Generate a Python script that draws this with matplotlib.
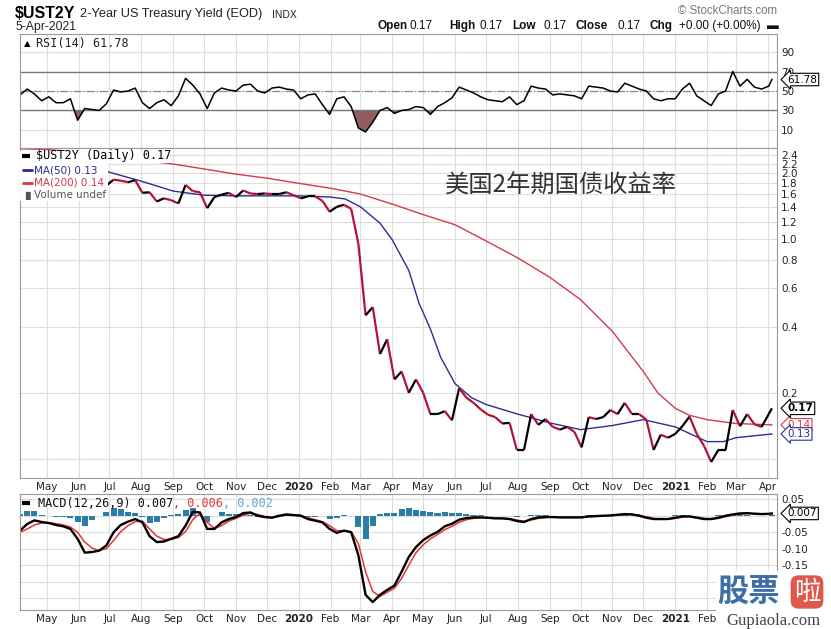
import numpy as np
import pandas as pd
import matplotlib
matplotlib.use("Agg")
import matplotlib.pyplot as plt
import matplotlib.dates as mdates
from matplotlib.collections import LineCollection
from matplotlib.patches import Rectangle
from matplotlib.ticker import NullLocator
from matplotlib.transforms import blended_transform_factory as blend

W, H = 831, 629

# weekly closes (Fridays) plus the last bar
weeks = list(pd.date_range("2019-04-05", "2021-04-02", freq="7D")) + [pd.Timestamp("2021-04-05")]

yield_2y = [2.34, 2.39, 2.38, 2.28, 2.34, 2.27, 2.20, 2.16, 1.92, 1.85,
            1.84, 1.77, 1.75, 1.86, 1.84, 1.81, 1.85, 1.62, 1.63, 1.48,
            1.53, 1.50, 1.45, 1.76, 1.65, 1.63, 1.38, 1.55, 1.59, 1.62,
            1.55, 1.66, 1.61, 1.60, 1.61, 1.60, 1.60, 1.63, 1.58, 1.53,
            1.56, 1.56, 1.49, 1.33, 1.40, 1.43, 1.37, 0.95, 0.45, 0.49,
            0.30, 0.35, 0.23, 0.25, 0.20, 0.23, 0.20, 0.16, 0.16, 0.165,
            0.15, 0.21, 0.19, 0.18, 0.168, 0.159, 0.155, 0.145, 0.146, 0.11,
            0.11, 0.16, 0.143, 0.152, 0.14, 0.136, 0.14, 0.133, 0.113, 0.155,
            0.152, 0.155, 0.167, 0.16, 0.18, 0.16, 0.16, 0.151, 0.11, 0.129,
            0.125, 0.13, 0.141, 0.156, 0.13, 0.115, 0.097, 0.11, 0.11, 0.167,
            0.141, 0.16, 0.144, 0.14, 0.16, 0.17]

rsi_14 = [46, 52, 47, 40, 44, 38, 38, 42, 20, 32,
          31, 30, 37, 51, 49, 50, 53, 38, 32, 38,
          41, 35, 45, 63, 56, 47, 32, 48, 53, 51,
          50, 56, 57, 50, 48, 53, 54, 52, 51, 42,
          46, 47, 36, 26, 42, 44, 34, 12, 8, 18,
          30, 33, 27, 30, 31, 34, 33, 26, 34, 38,
          43, 54, 51, 48, 44, 41, 40, 39, 44, 36,
          40, 55, 53, 52, 46, 47, 46, 45, 42, 55,
          54, 53, 50, 49, 58, 55, 52, 50, 42, 40,
          42, 42, 52, 58, 45, 40, 35, 47, 50, 70,
          55, 62, 54, 52, 55, 61.78]

macd_line = [-0.045, -0.025, -0.014, -0.019, -0.022, -0.028, -0.032, -0.040, -0.070, -0.112,
             -0.110, -0.106, -0.090, -0.050, -0.028, -0.018, -0.010, -0.020, -0.062, -0.080,
             -0.078, -0.070, -0.062, -0.030, 0.012, 0.010, -0.040, -0.040, -0.020, -0.010,
             -0.004, 0.008, 0.010, 0.000, -0.004, -0.006, 0.000, 0.004, 0.002, 0.000,
             -0.010, -0.015, -0.020, -0.040, -0.052, -0.045, -0.050, -0.120, -0.240, -0.262,
             -0.240, -0.225, -0.212, -0.170, -0.125, -0.095, -0.074, -0.060, -0.049, -0.032,
             -0.024, -0.012, -0.007, -0.005, -0.005, -0.006, -0.008, -0.008, -0.010, -0.016,
             -0.019, -0.010, -0.005, -0.004, -0.004, -0.005, -0.005, -0.005, -0.005, -0.002,
             -0.001, 0.000, 0.001, 0.003, 0.005, 0.004, 0.000, -0.006, -0.010, -0.010,
             -0.010, -0.006, -0.002, -0.002, -0.006, -0.010, -0.010, -0.006, 0.000, 0.004,
             0.007, 0.008, 0.006, 0.005, 0.006, 0.007]

macd_signal = [-0.050, -0.040, -0.028, -0.022, -0.021, -0.024, -0.028, -0.034, -0.050, -0.080,
               -0.098, -0.105, -0.100, -0.075, -0.048, -0.030, -0.018, -0.016, -0.040, -0.062,
               -0.072, -0.072, -0.066, -0.048, -0.012, 0.008, -0.020, -0.038, -0.030, -0.016,
               -0.008, 0.002, 0.008, 0.004, -0.002, -0.005, -0.002, 0.002, 0.003, 0.001,
               -0.006, -0.012, -0.018, -0.030, -0.045, -0.046, -0.048, -0.085, -0.170, -0.230,
               -0.245, -0.232, -0.220, -0.190, -0.150, -0.112, -0.088, -0.070, -0.057, -0.042,
               -0.032, -0.020, -0.012, -0.008, -0.006, -0.006, -0.007, -0.008, -0.009, -0.013,
               -0.017, -0.013, -0.008, -0.005, -0.004, -0.005, -0.005, -0.005, -0.005, -0.003,
               -0.002, -0.001, 0.000, 0.002, 0.004, 0.004, 0.002, -0.003, -0.008, -0.010,
               -0.010, -0.008, -0.004, -0.002, -0.004, -0.008, -0.010, -0.008, -0.003, 0.002,
               0.005, 0.007, 0.007, 0.006, 0.006, 0.006]

ma50_dates = pd.to_datetime([
    "2019-04-05", "2019-05-01", "2019-06-01", "2019-06-22", "2019-07-01", "2019-08-01",
    "2019-09-01", "2019-10-01", "2019-11-01", "2019-12-01", "2020-01-01", "2020-02-01",
    "2020-02-15", "2020-03-01", "2020-03-20", "2020-04-01", "2020-04-17", "2020-04-27",
    "2020-05-08", "2020-05-18", "2020-06-01", "2020-06-17", "2020-07-01", "2020-08-01",
    "2020-09-01", "2020-10-01", "2020-11-01", "2020-12-01", "2021-01-01", "2021-02-01",
    "2021-02-17", "2021-03-01", "2021-04-05"])
ma50 = [2.38, 2.33, 2.22, 2.06, 2.01, 1.83,
        1.65, 1.58, 1.57, 1.57, 1.57, 1.55,
        1.52, 1.40, 1.18, 0.99, 0.72, 0.51,
        0.39, 0.29, 0.22, 0.19, 0.177, 0.16,
        0.146, 0.136, 0.142, 0.151, 0.14, 0.12,
        0.12, 0.125, 0.13]

ma200_dates = pd.to_datetime([
    "2019-04-05", "2019-05-01", "2019-06-01", "2019-07-01", "2019-08-01", "2019-09-01",
    "2019-10-01", "2019-11-01", "2019-12-01", "2020-01-01", "2020-02-01", "2020-03-01",
    "2020-04-01", "2020-05-01", "2020-06-01", "2020-07-01", "2020-08-01", "2020-09-01",
    "2020-10-01", "2020-11-01", "2020-12-01", "2020-12-15", "2021-01-01", "2021-01-15",
    "2021-02-01", "2021-03-01", "2021-04-05"])
ma200 = [2.57, 2.55, 2.48, 2.38, 2.28, 2.19,
         2.08, 1.97, 1.89, 1.79, 1.70, 1.60,
         1.44, 1.29, 1.16, 0.98, 0.82, 0.67,
         0.53, 0.38, 0.25, 0.20, 0.17, 0.158,
         0.151, 0.145, 0.143]

price_ticks = [2.4, 2.2, 2.0, 1.8, 1.6, 1.4, 1.2, 1.0, 0.8, 0.6, 0.4, 0.2]
rsi_ticks = [90, 70, 50, 30, 10]
macd_ticks = [0.05, -0.05, -0.10, -0.15]
month_ticks = pd.date_range("2019-05-01", "2021-04-01", freq="MS")

RED = "#b3123a"
MA50_C = "#2b2f8f"
MA200_C = "#d33a4c"
MONO = "DejaVu Sans Mono"
ARIAL = "Liberation Sans"


def fx(x):
    return x / W


def fy(y):
    return 1 - y / H


x_all = mdates.date2num(weeks)
x_lim = (mdates.date2num(pd.Timestamp("2019-04-05")), mdates.date2num(pd.Timestamp("2021-04-10")))

fig = plt.figure(figsize=(W / 100, H / 100), dpi=100)
ax_rsi = fig.add_axes([fx(20), fy(148), 757 / W, 114 / H])
ax_px = fig.add_axes([fx(20), fy(478), 757 / W, 330 / H])
ax_macd = fig.add_axes([fx(20), fy(610), 757 / W, 116 / H])


def style(ax, labels, upto=None):
    ax.set_xlim(*x_lim)
    ax.set_xticks(mdates.date2num(month_ticks))
    if labels:
        lab = []
        for d in month_ticks:
            if upto is not None and d > upto:
                lab.append("")          # hidden under the site stamp in the source
            elif d.month == 1:
                lab.append("%d" % d.year)
            else:
                lab.append(d.strftime("%b"))
        ax.set_xticklabels(lab)
        for t, d in zip(ax.get_xticklabels(), month_ticks):
            if d.month == 1:
                t.set_fontweight("bold")
                t.set_fontsize(8)
    else:
        ax.set_xticklabels([])
    ax.grid(True, color="#dedede", lw=0.8)
    ax.set_axisbelow(True)
    for s in ax.spines.values():
        s.set_color("#999999")
        s.set_linewidth(0.8)
    ax.yaxis.tick_right()
    ax.tick_params(length=0, labelsize=7.5, colors="#222222", pad=3)


def key_bar(ax, y, color, x1=0.0135, lw=2.6):
    # little coloured dash in front of each legend entry
    ax.plot([0.0027, x1], [y, y], transform=ax.transAxes, color=color, lw=lw,
            solid_capstyle="butt", clip_on=False, zorder=9)


def chain(ax, pieces, x, y, size, family):
    # write text pieces one after another on one line
    prev = ax.text(x, y, pieces[0][0], transform=ax.transAxes, fontsize=size, va="center",
                   color=pieces[0][1], family=family, zorder=8)
    for s, c in pieces[1:]:
        prev = ax.annotate(s, xy=(1, 0.5), xycoords=prev, va="center", ha="left",
                           fontsize=size, color=c, family=family, zorder=8)


# ---- RSI panel
style(ax_rsi, False)
ax_rsi.set_ylim(-8.5, 108.5)
ax_rsi.set_yticks(rsi_ticks)
rsi_arr = np.array(rsi_14, dtype=float)
ax_rsi.fill_between(x_all, rsi_arr, 30, where=rsi_arr < 30, interpolate=True,
                    color="#8e5f5c", lw=0)
ax_rsi.axhline(70, color="#777777", lw=1)
ax_rsi.axhline(30, color="#777777", lw=1)
ax_rsi.axhline(50, color="#888888", lw=0.9, ls="-.")
ax_rsi.plot(x_all, rsi_arr, color="black", lw=1.1)
tr = blend(ax_rsi.transAxes, ax_rsi.transData)
ax_rsi.text(1.014, rsi_14[-1], "61.78", transform=tr, fontsize=7.5, va="center", ha="left",
            bbox=dict(boxstyle="larrow,pad=0.12", fc="white", ec="black", lw=0.8), zorder=5,
            clip_on=False)
ax_rsi.text(0.005, 0.92, "\u25B2", transform=ax_rsi.transAxes, fontsize=6, va="center")
ax_rsi.text(0.0215, 0.92, "RSI(14) 61.78", transform=ax_rsi.transAxes, fontsize=8.5,
            va="center", color="#222222", family=MONO)

# ---- price panel
style(ax_px, True)
ax_px.set_yscale("log")
ax_px.set_ylim(0.082, 2.59)
ax_px.set_yticks(price_ticks + [0.1])
ax_px.set_yticklabels(["%.1f" % v for v in price_ticks] + [""])
ax_px.yaxis.set_minor_locator(NullLocator())
ax_px.plot(mdates.date2num(ma200_dates), ma200, color=MA200_C, lw=1)
ax_px.plot(mdates.date2num(ma50_dates), ma50, color=MA50_C, lw=1)
pts = np.column_stack([x_all, yield_2y])
segs = [pts[i:i + 2] for i in range(len(pts) - 1)]
cols = [RED if yield_2y[i + 1] < yield_2y[i] else "black" for i in range(len(pts) - 1)]
ax_px.add_collection(LineCollection(segs, colors=cols, linewidths=1.6, zorder=3))

tp = blend(ax_px.transAxes, ax_px.transData)
ax_px.text(1.014, ma200[-1], "0.14", transform=tp, fontsize=7.5, va="center", color=MA200_C,
           bbox=dict(boxstyle="larrow,pad=0.12", fc="white", ec=MA200_C, lw=0.8), clip_on=False, zorder=5)
ax_px.text(1.014, ma50[-1], "0.13", transform=tp, fontsize=7.5, va="center", color=MA50_C,
           bbox=dict(boxstyle="larrow,pad=0.12", fc="white", ec=MA50_C, lw=0.8), clip_on=False, zorder=6)
ax_px.text(1.014, yield_2y[-1], "0.17", transform=tp, fontsize=7.5, va="center", fontweight="bold",
           bbox=dict(boxstyle="larrow,pad=0.12", fc="white", ec="black", lw=0.8), clip_on=False, zorder=7)

# legend block has a white background that hides the lines beneath it
ax_px.add_patch(Rectangle((0, 0.955), 150 / 757, 0.035, transform=ax_px.transAxes,
                          fc="white", ec="none", zorder=7))
ax_px.add_patch(Rectangle((0, 0.84), 88 / 757, 0.115, transform=ax_px.transAxes,
                          fc="white", ec="none", zorder=7))
key_bar(ax_px, 0.976, "black", x1=0.0135, lw=3)
ax_px.text(0.021, 0.976, r"\$UST2Y (Daily) 0.17", transform=ax_px.transAxes, fontsize=8.5,
           va="center", zorder=8, family=MONO)
key_bar(ax_px, 0.933, MA50_C, x1=0.017, lw=2)
ax_px.text(0.0185, 0.933, "MA(50) 0.13", transform=ax_px.transAxes, fontsize=7.5, va="center",
           color=MA50_C, zorder=8)
key_bar(ax_px, 0.894, MA200_C, x1=0.017, lw=2)
ax_px.text(0.0185, 0.894, "MA(200) 0.14", transform=ax_px.transAxes, fontsize=7.5, va="center",
           color=MA200_C, zorder=8)
ax_px.text(0.003, 0.857, "\u2590\u258C", transform=ax_px.transAxes, fontsize=5.5, va="center",
           color="#555555", zorder=8)
ax_px.text(0.0185, 0.857, "Volume undef", transform=ax_px.transAxes, fontsize=7.5, va="center",
           color="#555555", zorder=8)

ax_px.text((445 - 20) / 757, 0.885, "美国2年期国债收益率", transform=ax_px.transAxes,
           fontsize=17.5, va="center", color="#333333", family=["Noto Sans CJK SC", "DejaVu Sans"])

# ---- MACD panel
style(ax_macd, True, upto=pd.Timestamp("2021-02-01"))
ax_macd.set_ylim(-0.286, 0.066)
ax_macd.set_yticks(macd_ticks + [0.0, -0.20, -0.25])
ax_macd.set_yticklabels(["%.2f" % v for v in macd_ticks] + ["", "", ""])
hist = np.array(macd_line) - np.array(macd_signal)
ax_macd.bar(x_all, hist, width=6, color="#2d7ea6", lw=0)
ax_macd.plot(x_all, macd_signal, color="#e2363a", lw=1.1)
ax_macd.plot(x_all, macd_line, color="black", lw=1.7)
tm = blend(ax_macd.transAxes, ax_macd.transData)
ax_macd.text(1.014, macd_line[-1], "0.007", transform=tm, fontsize=7.5, va="center",
             bbox=dict(boxstyle="larrow,pad=0.12", fc="white", ec="black", lw=0.8), clip_on=False, zorder=5)
key_bar(ax_macd, 0.92, "black", x1=0.0135, lw=3)
chain(ax_macd, [("MACD(12,26,9) 0.007", "#111111"), (", 0.006", "#e2363a"), (", 0.002", "#5ea6cf")],
      0.0235, 0.92, 8.5, MONO)

# ---- header
fig.text(fx(15), fy(14), r"\$UST2Y", fontsize=11.5, fontweight="bold", va="center", family=ARIAL)
fig.text(fx(80), fy(14.5), "2-Year US Treasury Yield (EOD)", fontsize=9.2, va="center",
         color="#222222", family=ARIAL)
fig.text(fx(272), fy(14.5), "INDX", fontsize=7.5, va="center", color="#222222", family=ARIAL)
fig.text(fx(15), fy(27), "5-Apr-2021", fontsize=8.8, va="center", color="#222222", family=ARIAL)
fig.text(fx(777), fy(11), "\u00A9 StockCharts.com", fontsize=8.3, va="center", ha="right",
         color="#777777", family=ARIAL)
header = [(378, "Open", True), (410, "0.17", False), (449, "High", True), (480, "0.17", False),
          (512, "Low", True), (543, "0.17", False), (576, "Close", True), (617, "0.17", False),
          (650, "Chg", True), (679, "+0.00 (+0.00%)", False), (767, "\u25AC", False)]
for px, s, b in header:
    fig.text(fx(px), fy(26), s, fontsize=8.5, va="center", family=ARIAL,
             fontweight="bold" if b else "normal", color="#111111")

# ---- site watermark (bottom right of the source image)
fig.add_artist(Rectangle((fx(716), 0), 1 - fx(716), fy(571), transform=fig.transFigure,
                         fc="white", ec="none", zorder=5))
fig.text(fx(717), fy(593), "股票", fontsize=22.5, fontweight="bold", color="#3d6ea6", va="center",
         family=["Noto Sans CJK SC", "DejaVu Sans"], zorder=6)
fig.text(fx(807), fy(592), "啦", fontsize=19, color="white", va="center", ha="center",
         family=["Noto Sans CJK SC", "DejaVu Sans"], zorder=6,
         bbox=dict(boxstyle="round,pad=0.12,rounding_size=0.3", fc="#e0574b", ec="none"))
fig.text(fx(773), fy(621), "Gupiaola.com", fontsize=12, color="#444444", va="center", ha="center",
         family="Liberation Serif", zorder=6)

fig.savefig("out.png", dpi=100)
